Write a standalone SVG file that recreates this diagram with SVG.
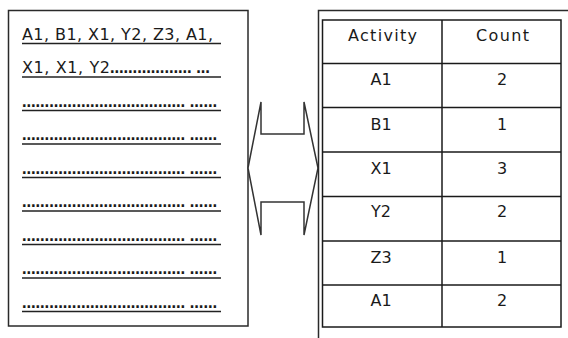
<svg xmlns="http://www.w3.org/2000/svg" width="568" height="338" viewBox="0 0 568 338">
  <style>
    .txt { font-family: "DejaVu Sans", Verdana, sans-serif; font-size: 16px; fill: #1a1a1a; }
    .dots { font-family: "DejaVu Sans", Verdana, sans-serif; font-size: 13.6px; fill: #1a1a1a; font-weight: bold; }
    .mid { text-anchor: middle; }
    .frame { fill: none; stroke: #2a2a2a; stroke-width: 1.5; }
    .ul { stroke: #222; stroke-width: 1.6; }
    .grid { fill: none; stroke: #1a1a1a; stroke-width: 1.5; }
    .arrow { fill: #fff; stroke: #333; stroke-width: 1.5; stroke-linejoin: miter; }
  </style>
  <rect width="568" height="338" fill="#fff"/>

  <!-- Sequence sheet: activity trace written out as underlined lines -->
  <g id="sequence">
    <rect class="frame" x="8.5" y="10.5" width="239.5" height="315.5"/>
    <g class="txt">
      <text x="22" y="39.5" textLength="191" lengthAdjust="spacing">A1, B1, X1, Y2, Z3, A1,</text>
      <text x="22" y="73" textLength="88" lengthAdjust="spacing">X1, X1, Y2</text>
    </g>
    <g class="dots">
      <text x="110" y="73">……………… …</text>
      <text x="22" y="106.5">……………………………… ……</text>
      <text x="22" y="140">……………………………… ……</text>
      <text x="22" y="173.5">……………………………… ……</text>
      <text x="22" y="207">……………………………… ……</text>
      <text x="22" y="240.5">……………………………… ……</text>
      <text x="22" y="274">……………………………… ……</text>
      <text x="22" y="307.5">……………………………… ……</text>
    </g>
    <g class="ul">
      <line x1="22" y1="43.5" x2="221" y2="43.5"/>
      <line x1="22" y1="77" x2="221" y2="77"/>
      <line x1="22" y1="110.5" x2="221" y2="110.5"/>
      <line x1="22" y1="144" x2="221" y2="144"/>
      <line x1="22" y1="177.5" x2="221" y2="177.5"/>
      <line x1="22" y1="211" x2="221" y2="211"/>
      <line x1="22" y1="244.5" x2="221" y2="244.5"/>
      <line x1="22" y1="278" x2="221" y2="278"/>
      <line x1="22" y1="311.5" x2="221" y2="311.5"/>
    </g>
  </g>

  <!-- Two-way conversion arrow between the sheet and the table -->
  <g id="connectors">
    <path class="arrow" d="M248,168 L261,102 L261,134 L304,134 L304,102 L318,168 L304,235 L304,202 L261,202 L261,235 Z"/>
  </g>

  <!-- Count table inside its open frame -->
  <g id="count-table">
    <path class="frame" d="M568,10.5 L318.5,10.5 L318.5,338"/>
    <rect class="grid" x="322.5" y="20" width="238.5" height="307"/>
    <g class="grid">
      <line x1="442" y1="20" x2="442" y2="327"/>
      <line x1="322.5" y1="63.5" x2="561" y2="63.5"/>
      <line x1="322.5" y1="107.5" x2="561" y2="107.5"/>
      <line x1="322.5" y1="152" x2="561" y2="152"/>
      <line x1="322.5" y1="196.5" x2="561" y2="196.5"/>
      <line x1="322.5" y1="241" x2="561" y2="241"/>
      <line x1="322.5" y1="285" x2="561" y2="285"/>
    </g>
    <g class="txt mid">
      <text x="382.5" y="40.5" textLength="69" lengthAdjust="spacing">Activity</text>
      <text x="502.5" y="40.5" textLength="53" lengthAdjust="spacing">Count</text>
      <text x="381" y="84.5">A1</text>
      <text x="502" y="84.5">2</text>
      <text x="381" y="129.5">B1</text>
      <text x="502" y="129.5">1</text>
      <text x="381" y="174">X1</text>
      <text x="502" y="174">3</text>
      <text x="381" y="217">Y2</text>
      <text x="502" y="217">2</text>
      <text x="381" y="262.5">Z3</text>
      <text x="502" y="262.5">1</text>
      <text x="381" y="305.5">A1</text>
      <text x="502" y="305.5">2</text>
    </g>
  </g>
</svg>
